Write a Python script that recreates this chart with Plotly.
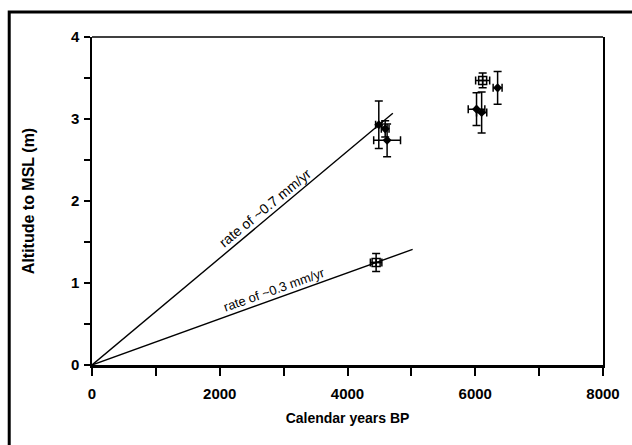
import plotly.graph_objects as go

# Filled sample points
years_solid = [4490, 4590, 4620, 6020, 6100, 6350]
alt_solid = [2.93, 2.88, 2.74, 3.12, 3.08, 3.38]
yerr_solid = [0.29, 0.10, 0.20, 0.20, 0.25, 0.20]
xerr_solid = [50, 60, 210, 130, 80, 70]

# Open (square) sample points
years_open = [6116, 4448]
alt_open = [3.47, 1.25]
yerr_open = [0.09, 0.11]
xerr_open = [110, 90]

# Rate lines
line_fast_x = [0, 4710]
line_fast_y = [0, 3.07]
line_slow_x = [0, 5020]
line_slow_y = [0, 1.41]

# Label anchor points (on the lines)
label_fast = (2800, 1.825)
label_slow = (2910, 0.817)

x_ticks = [0, 2000, 4000, 6000, 8000]
y_ticks = [0, 1, 2, 3, 4]

FONT = "Liberation Sans, Arial, sans-serif"

fig = go.Figure()
fig.add_trace(go.Scatter(x=line_fast_x, y=line_fast_y, mode="lines",
                         line=dict(color="black", width=1.4), showlegend=False))
fig.add_trace(go.Scatter(x=line_slow_x, y=line_slow_y, mode="lines",
                         line=dict(color="black", width=1.4), showlegend=False))
fig.add_trace(go.Scatter(
    x=years_solid, y=alt_solid, mode="markers",
    marker=dict(symbol="diamond", size=7, color="black"),
    error_y=dict(type="data", array=yerr_solid, color="black", thickness=1.5, width=4),
    error_x=dict(type="data", array=xerr_solid, color="black", thickness=1.5, width=4),
    showlegend=False))
fig.add_trace(go.Scatter(
    x=years_open, y=alt_open, mode="markers",
    marker=dict(symbol="square-cross-open", size=8, color="black", line=dict(width=1.5)),
    error_y=dict(type="data", array=yerr_open, color="black", thickness=1.5, width=4),
    error_x=dict(type="data", array=xerr_open, color="black", thickness=1.5, width=4),
    showlegend=False))

fig.add_annotation(x=label_fast[0], y=label_fast[1], text="rate of ~0.7 mm/yr", showarrow=False,
                   textangle=-39.5, xshift=-6, yshift=7.5,
                   font=dict(family=FONT, size=14, color="black"))
fig.add_annotation(x=label_slow[0], y=label_slow[1], text="rate of ~0.3 mm/yr", showarrow=False,
                   textangle=-19.5, xshift=-3, yshift=8.5,
                   font=dict(family=FONT, size=13, color="black"))

# top border of the plot area
fig.add_shape(type="line", xref="paper", yref="paper", x0=0, x1=1, y0=1, y1=1,
              line=dict(color="black", width=1.5))
# outer frame
fig.add_shape(type="rect", xref="paper", yref="paper",
              x0=-0.162, x1=1.08, y0=-0.3, y1=1.076,
              line=dict(color="black", width=3))

fig.update_xaxes(range=[0, 8000], tickvals=x_ticks, ticktext=[f"<b>{v}</b>" for v in x_ticks],
                 showline=True, linecolor="black", linewidth=3, mirror=False,
                 ticks="outside", ticklen=8, tickwidth=1.5, tickcolor="black",
                 ticklabelstandoff=5,
                 minor=dict(dtick=1000, ticks="outside", ticklen=8, tickwidth=1.5, tickcolor="black"),
                 showgrid=False, zeroline=False,
                 tickfont=dict(family=FONT, size=15, color="black"),
                 title=dict(text="<b>Calendar years BP</b>", font=dict(family=FONT, size=14, color="black"), standoff=13))
fig.update_yaxes(range=[0, 4], tickvals=y_ticks, ticktext=[f"<b>{v}</b>" for v in y_ticks],
                 showline=True, linecolor="black", linewidth=1.5, mirror=True,
                 ticks="outside", ticklen=6, tickwidth=1.5, tickcolor="black",
                 ticklabelstandoff=2,
                 minor=dict(dtick=0.5, ticks="outside", ticklen=6, tickwidth=1.5, tickcolor="black"),
                 showgrid=False, zeroline=False,
                 tickfont=dict(family=FONT, size=15, color="black"),
                 title=dict(text="<b>Altitude to MSL (m)</b>", font=dict(family=FONT, size=16, color="black"), standoff=32))

fig.update_layout(width=632, height=445, margin=dict(l=92, r=22, t=37, b=80),
                  plot_bgcolor="white", paper_bgcolor="white")

fig.write_html("out.html")
